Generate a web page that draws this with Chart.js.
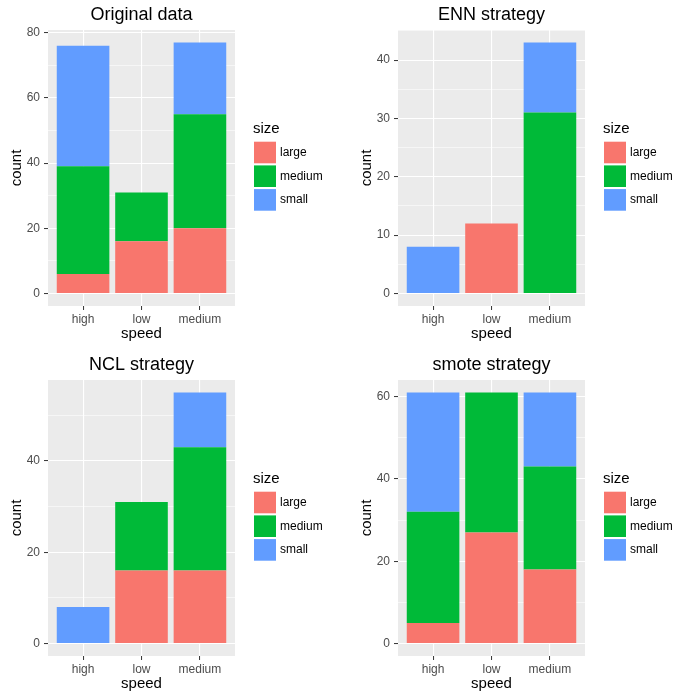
<!DOCTYPE html>
<html>
<head>
<meta charset="utf-8">
<script src="https://cdn.jsdelivr.net/npm/chart.js@4.4.0/dist/chart.umd.min.js"></script>
<style>
  body { margin: 0; background: #ffffff; }
  #grid { display: grid; grid-template-columns: 350px 350px; grid-template-rows: 350px 350px; width: 700px; height: 700px; }
  canvas { display: block; }
</style>
</head>
<body>
<div id="grid">
  <div><canvas id="origChart" width="350" height="350"></canvas></div>
  <div><canvas id="ennChart" width="350" height="350"></canvas></div>
  <div><canvas id="nclChart" width="350" height="350"></canvas></div>
  <div><canvas id="smoteChart" width="350" height="350"></canvas></div>
</div>
<script>
// categories and fill groups
const speeds = ['high', 'low', 'medium'];
const sizes = ['large', 'medium', 'small'];
const sizeColors = ['#F8766D', '#00BA38', '#619CFF'];

// Original data
const origLarge = [6, 16, 20];
const origMedium = [33, 15, 35];
const origSmall = [37, 0, 22];
const origTicks = [0, 20, 40, 60, 80];
const origMinor = [10, 30, 50, 70];

// ENN strategy
const ennLarge = [0, 12, 0];
const ennMedium = [0, 0, 31];
const ennSmall = [8, 0, 12];
const ennTicks = [0, 10, 20, 30, 40];
const ennMinor = [5, 15, 25, 35, 45];

// NCL strategy
const nclLarge = [0, 16, 16];
const nclMedium = [0, 15, 27];
const nclSmall = [8, 0, 12];
const nclTicks = [0, 20, 40];
const nclMinor = [10, 30, 50];

// smote strategy
const smoteLarge = [5, 27, 18];
const smoteMedium = [27, 34, 25];
const smoteSmall = [29, 0, 18];
const smoteTicks = [0, 20, 40, 60];
const smoteMinor = [10, 30, 50];

Chart.defaults.font.family = "'Liberation Sans', Arial, sans-serif";
Chart.defaults.devicePixelRatio = 1;

// ggplot-like decorations: panel background, titles and legend
const ggDecor = {
  id: 'ggDecor',
  beforeDraw(chart) {
    const a = chart.chartArea;
    const ctx = chart.ctx;
    ctx.save();
    ctx.fillStyle = '#EBEBEB';
    ctx.fillRect(a.left, a.top, a.right - a.left, a.bottom - a.top);
    ctx.restore();
  },
  afterDraw(chart, args, opts) {
    const a = chart.chartArea;
    const ctx = chart.ctx;
    const font = Chart.defaults.font.family;
    const cx = (a.left + a.right) / 2;
    ctx.save();
    ctx.fillStyle = '#000000';
    ctx.textBaseline = 'middle';

    ctx.textAlign = 'center';
    ctx.font = '18px ' + font;
    ctx.fillText(opts.title, cx, 15);

    ctx.font = '15px ' + font;
    ctx.fillText('speed', cx, 334);

    ctx.save();
    ctx.translate(17, (a.top + a.bottom) / 2);
    ctx.rotate(-Math.PI / 2);
    ctx.fillText('count', 0, 0);
    ctx.restore();

    // legend
    ctx.textAlign = 'left';
    ctx.fillText('size', 253, 129);
    ctx.font = '12px ' + font;
    chart.data.datasets.forEach((ds, i) => {
      const y = 141.7 + i * 23.7;
      ctx.fillStyle = ds.backgroundColor;
      ctx.fillRect(254, y, 22, 21.6);
      ctx.fillStyle = '#000000';
      ctx.fillText(ds.label, 280, y + 11);
    });
    ctx.restore();
  }
};

function makeChart(id, title, large, medium, small, majorTicks, minorTicks) {
  const groups = [large, medium, small];
  const totals = speeds.map((s, i) => large[i] + medium[i] + small[i]);
  const top = Math.max(...totals);
  const isMajor = v => majorTicks.includes(v);

  new Chart(document.getElementById(id), {
    type: 'bar',
    data: {
      datasets: sizes.map((size, k) => ({
        label: size,
        data: groups[k].map((v, i) => ({ x: i + 1, y: v })),
        backgroundColor: sizeColors[k],
        borderWidth: 0,
        categoryPercentage: 1.0,
        barPercentage: 0.9
      }))
    },
    options: {
      responsive: false,
      animation: false,
      layout: { padding: { top: 30, right: 115, bottom: 0, left: 0 } },
      plugins: {
        legend: { display: false },
        tooltip: { enabled: false },
        ggDecor: { title: title }
      },
      scales: {
        x: {
          type: 'linear',
          stacked: true,
          offset: false,
          min: 0.4,
          max: 3.6,
          afterBuildTicks: axis => { axis.ticks = speeds.map((s, i) => ({ value: i + 1 })); },
          afterFit: axis => { axis.height = 44; },
          border: { display: false },
          grid: { offset: false, color: '#FFFFFF', lineWidth: 1.1, tickColor: '#333333', tickWidth: 1, tickLength: 4 },
          ticks: {
            color: '#4D4D4D',
            font: { size: 12 },
            padding: 2,
            maxRotation: 0,
            autoSkip: false,
            callback: v => speeds[v - 1]
          }
        },
        y: {
          stacked: true,
          min: -0.05 * top,
          max: 1.05 * top,
          afterBuildTicks: axis => {
            axis.ticks = majorTicks.concat(minorTicks)
              .filter(v => v <= 1.05 * top)
              .sort((p, q) => p - q)
              .map(v => ({ value: v }));
          },
          afterFit: axis => { axis.width = 48; },
          border: { display: false },
          grid: {
            color: '#FFFFFF',
            lineWidth: c => isMajor(c.tick.value) ? 1.1 : 0.55,
            tickColor: c => isMajor(c.tick.value) ? '#333333' : 'rgba(0,0,0,0)',
            tickWidth: 1,
            tickLength: 4
          },
          ticks: {
            color: '#4D4D4D',
            font: { size: 12 },
            padding: 4,
            autoSkip: false,
            callback: v => isMajor(v) ? String(v) : ''
          }
        }
      }
    },
    plugins: [ggDecor]
  });
}

makeChart('origChart', 'Original data', origLarge, origMedium, origSmall, origTicks, origMinor);
makeChart('ennChart', 'ENN strategy', ennLarge, ennMedium, ennSmall, ennTicks, ennMinor);
makeChart('nclChart', 'NCL strategy', nclLarge, nclMedium, nclSmall, nclTicks, nclMinor);
makeChart('smoteChart', 'smote strategy', smoteLarge, smoteMedium, smoteSmall, smoteTicks, smoteMinor);
</script>
</body>
</html>
